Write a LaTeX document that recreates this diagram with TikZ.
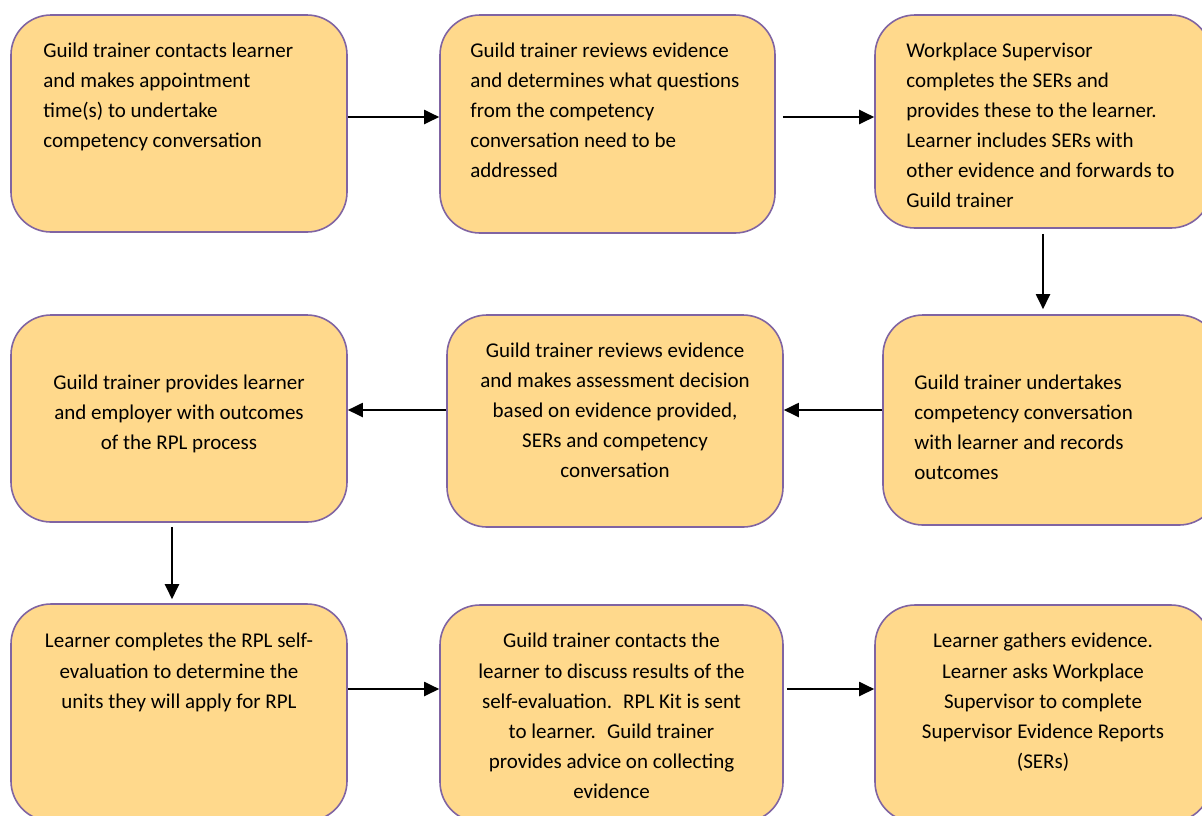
\documentclass[tikz,border=0pt]{standalone}
\usepackage{fontspec}
\setmainfont{Carlito}
\usetikzlibrary{arrows.meta}
\definecolor{boxfill}{HTML}{FFD98C}
\definecolor{boxline}{HTML}{8064A2}
\tikzset{
  stage/.style={draw=boxline,fill=boxfill,line width=0.8pt,rounded corners=20pt,inner sep=0pt},
  txt/.style={inner sep=0pt,font=\fontsize{10.5}{15}\selectfont},
  arr/.style={-{Triangle[length=7.5pt,width=7pt]},line width=1pt}
}
\begin{document}
\begin{tikzpicture}[x=0.5pt,y=-0.5pt]
    \useasboundingbox (0,0) rectangle (1202,815);
    % the nine stages
    \node[stage,minimum width=168pt,minimum height=108.5pt] (b1) at (179,123.5) {};
    \node[stage,minimum width=167.5pt,minimum height=109pt] (b2) at (607.5,124) {};
    \node[stage,minimum width=168pt,minimum height=106.5pt] (b3) at (1043,121.5) {};
    \node[stage,minimum width=168pt,minimum height=103.5pt] (b4) at (179,418.5) {};
    \node[stage,minimum width=168pt,minimum height=106pt] (b5) at (615,421) {};
    \node[stage,minimum width=168pt,minimum height=105pt] (b6) at (1051,420) {};
    \node[stage,minimum width=168pt,minimum height=108.5pt] (b7) at (179,712.5) {};
    \node[stage,minimum width=171.5pt,minimum height=108.5pt] (b8) at (611.5,713.5) {};
    \node[stage,minimum width=168pt,minimum height=108.5pt] (b9) at (1043,713.5) {};
    % texts
    \node[txt,anchor=north west,align=left] (t1) at (43,43)
        {Guild trainer contacts learner\\and makes appointment\\time(s) to undertake\\competency conversation};
    \node[txt,anchor=north west,align=left] (t2) at (470,43)
        {Guild trainer reviews evidence\\and determines what questions\\from the competency\\conversation need to be\\addressed};
    \node[txt,anchor=north west,align=left] (t3) at (906,43)
        {Workplace Supervisor\\completes the SERs and\\provides these to the learner.\\Learner includes SERs with\\other evidence and forwards to\\Guild trainer};
    \node[txt,anchor=north,align=center] (t4) at (179,375)
        {Guild trainer provides learner\\and employer with outcomes\\of the RPL process};
    \node[txt,anchor=north,align=center] (t5) at (615,343)
        {Guild trainer reviews evidence\\and makes assessment decision\\based on evidence provided,\\SERs and competency\\conversation};
    \node[txt,anchor=north west,align=left] (t6) at (914,375)
        {Guild trainer undertakes\\competency conversation\\with learner and records\\outcomes};
    \node[txt,anchor=north,align=center] (t7) at (179,633)
        {Learner completes the RPL self-\\evaluation to determine the\\units they will apply for RPL};
    \node[txt,anchor=north,align=center] (t8) at (611.5,633)
        {Guild trainer contacts the\\learner to discuss results of the\\self-evaluation.~ RPL Kit is sent\\to learner.~ Guild trainer\\provides advice on collecting\\evidence};
    \node[txt,anchor=north,align=center] (t9) at (1043,633)
        {Learner gathers evidence.\\Learner asks Workplace\\Supervisor to complete\\Supervisor Evidence Reports\\(SERs)};
    % arrow lines
    \coordinate (row1) at (0,117);
    \coordinate (row2) at (0,410);
    \coordinate (row3) at (0,689);
    \coordinate (col1) at (172,0);
    \coordinate (col3) at (1043,0);
    \draw[arr] (b1.east |- row1) -- (b2.west |- row1);
    \draw[arr,shorten <=3.5pt] (b2.east |- row1) -- (b3.west |- row1);
    \draw[arr,shorten <=2.5pt,shorten >=2.5pt] (col3 |- b3.south) -- (col3 |- b6.north);
    \draw[arr] (b6.west |- row2) -- (b5.east |- row2);
    \draw[arr] (b5.west |- row2) -- (b4.east |- row2);
    \draw[arr,shorten <=2pt,shorten >=2pt] (col1 |- b4.south) -- (col1 |- b7.north);
    \draw[arr] (b7.east |- row3) -- (b8.west |- row3);
    \draw[arr,shorten <=1.5pt] (b8.east |- row3) -- (b9.west |- row3);
\end{tikzpicture}
\end{document}
